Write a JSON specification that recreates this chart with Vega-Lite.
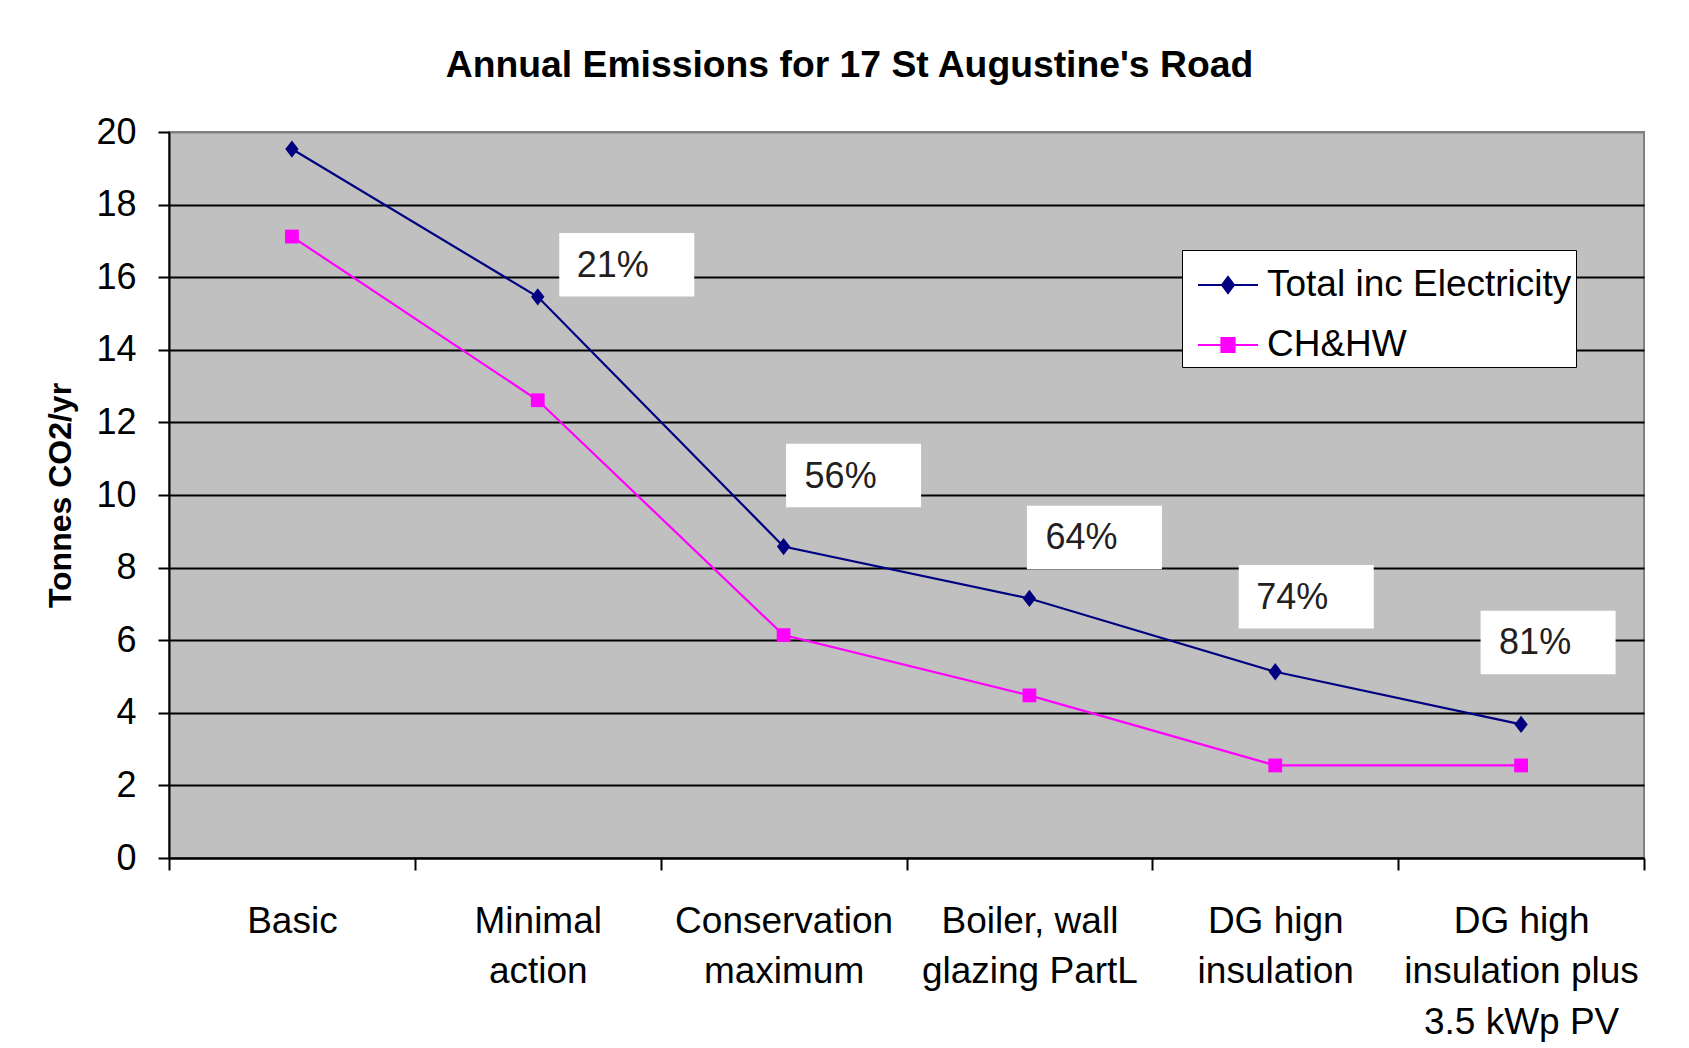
{
  "$schema": "https://vega.github.io/schema/vega-lite/v6.json",
  "autosize": "none",
  "width": 1475,
  "height": 726,
  "padding": {"left": 169, "top": 132, "right": 45, "bottom": 190},
  "background": "white",
  "title": {
    "text": "Annual Emissions for 17 St Augustine's Road",
    "font": "Liberation Sans",
    "fontSize": 37.3,
    "fontWeight": "bold",
    "color": "black",
    "anchor": "middle",
    "baseline": "alphabetic",
    "offset": 0,
    "dx": -57
  },
  "data": {
    "values": [
      {"series": "Total inc Electricity", "scenario": "Basic", "tonnes": 19.53, "reduction": null},
      {"series": "Total inc Electricity", "scenario": "Minimal action", "tonnes": 15.46, "reduction": "21%"},
      {"series": "Total inc Electricity", "scenario": "Conservation maximum", "tonnes": 8.58, "reduction": "56%"},
      {"series": "Total inc Electricity", "scenario": "Boiler, wall glazing PartL", "tonnes": 7.15, "reduction": "64%"},
      {"series": "Total inc Electricity", "scenario": "DG hign insulation", "tonnes": 5.13, "reduction": "74%"},
      {"series": "Total inc Electricity", "scenario": "DG high insulation plus 3.5 kWp PV", "tonnes": 3.68, "reduction": "81%"},
      {"series": "CH&HW", "scenario": "Basic", "tonnes": 17.12, "reduction": null},
      {"series": "CH&HW", "scenario": "Minimal action", "tonnes": 12.61, "reduction": null},
      {"series": "CH&HW", "scenario": "Conservation maximum", "tonnes": 6.14, "reduction": null},
      {"series": "CH&HW", "scenario": "Boiler, wall glazing PartL", "tonnes": 4.48, "reduction": null},
      {"series": "CH&HW", "scenario": "DG hign insulation", "tonnes": 2.55, "reduction": null},
      {"series": "CH&HW", "scenario": "DG high insulation plus 3.5 kWp PV", "tonnes": 2.55, "reduction": null}
    ]
  },
  "encoding": {
    "x": {
      "field": "scenario",
      "type": "nominal",
      "sort": null,
      "scale": {"type": "band", "paddingInner": 0, "paddingOuter": 0},
      "axis": {
        "title": null,
        "tickBand": "extent",
        "tickSize": 12,
        "tickWidth": 2,
        "tickColor": "black",
        "domainColor": "black",
        "domainWidth": 2,
        "labelAngle": 0,
        "labelFont": "Liberation Sans",
        "labelFontSize": 37,
        "labelColor": "black",
        "labelBaseline": "top",
        "labelPadding": 33,
        "labelLineHeight": 50.6,
        "labelOverlap": false,
        "labelBound": false,
        "labelFlush": false,
        "labelLimit": 0,
        "labelExpr": "datum.label == 'Minimal action' ? ['Minimal','action'] : datum.label == 'Conservation maximum' ? ['Conservation','maximum'] : datum.label == 'Boiler, wall glazing PartL' ? ['Boiler, wall','glazing PartL'] : datum.label == 'DG hign insulation' ? ['DG hign','insulation'] : datum.label == 'DG high insulation plus 3.5 kWp PV' ? ['DG high','insulation plus','3.5 kWp PV'] : datum.label"
      }
    },
    "y": {
      "field": "tonnes",
      "type": "quantitative",
      "scale": {"domain": [0, 20], "nice": false},
      "axis": {
        "title": "Tonnes CO2/yr",
        "titleFont": "Liberation Sans",
        "titleFontSize": 32,
        "titleFontWeight": "bold",
        "titleColor": "black",
        "titlePadding": 18,
        "values": [0, 2, 4, 6, 8, 10, 12, 14, 16, 18, 20],
        "tickSize": 11,
        "tickWidth": 2,
        "tickColor": "black",
        "domainColor": "black",
        "domainWidth": 2,
        "labelFont": "Liberation Sans",
        "labelFontSize": 36,
        "labelColor": "black",
        "labelPadding": 22,
        "grid": true,
        "gridWidth": 2,
        "gridColor": {"condition": {"test": "datum.value == 20", "value": "#808080"}, "value": "black"}
      }
    }
  },
  "layer": [
    {
      "mark": {"type": "line", "strokeWidth": 2.2},
      "encoding": {
        "color": {
          "field": "series",
          "type": "nominal",
          "scale": {"domain": ["Total inc Electricity", "CH&HW"], "range": ["#000080", "#FF00FF"]},
          "legend": {
            "title": null,
            "orient": "none",
            "legendX": 1013,
            "legendY": 118,
            "fillColor": "white",
            "strokeColor": "black",
            "padding": 4,
            "rowPadding": 11,
            "symbolSize": 3600,
            "symbolStrokeWidth": 2,
            "symbolOffset": 11,
            "labelOffset": 8,
            "labelFont": "Liberation Sans",
            "labelFontSize": 37,
            "labelColor": "black",
            "labelLimit": 0,
            "symbolType": {"expr": "datum.value == 'CH&HW' ? 'M-1,0H1M-0.22,-0.23H0.22V0.23H-0.22Z' : 'M-1,0H1M0,-0.27L0.2,0L0,0.27L-0.2,0Z'"},
            "symbolFillColor": {"expr": "datum.value == 'CH&HW' ? '#FF00FF' : '#000080'"},
            "symbolStrokeColor": {"expr": "datum.value == 'CH&HW' ? '#FF00FF' : '#000080'"}
          }
        }
      }
    },
    {
      "mark": {
        "type": "point",
        "filled": true,
        "opacity": 1,
        "strokeWidth": 0,
        "shape": {"expr": "datum.series == 'CH&HW' ? 'square' : 'M0,-1L0.77,0L0,1L-0.77,0Z'"},
        "size": {"expr": "datum.series == 'CH&HW' ? 190 : 300"}
      },
      "encoding": {
        "fill": {
          "field": "series",
          "type": "nominal",
          "scale": {"domain": ["Total inc Electricity", "CH&HW"], "range": ["#000080", "#FF00FF"]},
          "legend": null
        }
      }
    },
    {
      "transform": [{"filter": "datum.reduction != null"}],
      "mark": {
        "type": "point",
        "shape": "M-1,-0.47H1V0.47H-1Z",
        "size": 18225,
        "filled": true,
        "fill": "white",
        "opacity": 1,
        "strokeWidth": 0,
        "xOffset": {"expr": "datum.reduction == '21%' ? 89 : datum.reduction == '56%' ? 70 : datum.reduction == '64%' ? 65 : datum.reduction == '74%' ? 31 : 27"},
        "yOffset": {"expr": "datum.reduction == '21%' ? -32 : datum.reduction == '56%' ? -71 : datum.reduction == '64%' ? -61 : datum.reduction == '74%' ? -75 : -82"}
      }
    },
    {
      "transform": [{"filter": "datum.reduction != null"}],
      "mark": {
        "type": "text",
        "align": "left",
        "baseline": "middle",
        "font": "Liberation Sans",
        "fontSize": 36,
        "color": "#231F20",
        "xOffset": {"expr": "datum.reduction == '21%' ? 39 : datum.reduction == '56%' ? 21 : datum.reduction == '64%' ? 16 : datum.reduction == '74%' ? -19 : -22"},
        "yOffset": {"expr": "datum.reduction == '21%' ? -31 : datum.reduction == '56%' ? -70 : datum.reduction == '64%' ? -60 : datum.reduction == '74%' ? -74 : -81"}
      },
      "encoding": {"text": {"field": "reduction"}}
    }
  ],
  "config": {
    "font": "Liberation Sans",
    "view": {"fill": "#C0C0C0", "stroke": "#808080", "strokeWidth": 2}
  }
}
